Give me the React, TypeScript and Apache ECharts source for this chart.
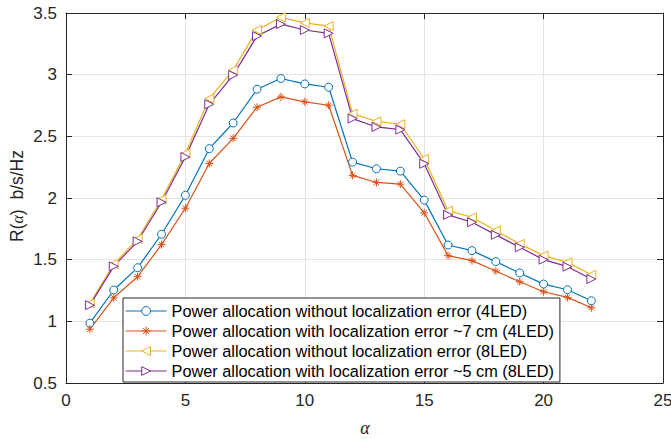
import React, { useEffect, useRef } from "react";
import * as echarts from "echarts";

const alpha = [1, 2, 3, 4, 5, 6, 7, 8, 9, 10, 11, 12, 13, 14, 15, 16, 17, 18, 19, 20, 21, 22];
const noErr4 = [0.985, 1.254, 1.435, 1.706, 2.022, 2.4, 2.608, 2.882, 2.969, 2.925, 2.898, 2.291, 2.237, 2.218, 1.983, 1.619, 1.573, 1.484, 1.392, 1.302, 1.256, 1.167];
const err4 = [0.936, 1.191, 1.362, 1.622, 1.917, 2.28, 2.484, 2.736, 2.82, 2.779, 2.752, 2.183, 2.126, 2.112, 1.88, 1.533, 1.492, 1.408, 1.321, 1.24, 1.194, 1.11];
const noErr8 = [1.145, 1.465, 1.668, 1.988, 2.36, 2.806, 3.037, 3.362, 3.465, 3.42, 3.394, 2.684, 2.622, 2.598, 2.318, 1.898, 1.844, 1.736, 1.628, 1.533, 1.478, 1.378];
const err8 = [1.131, 1.446, 1.649, 1.966, 2.332, 2.76, 2.996, 3.313, 3.41, 3.362, 3.335, 2.644, 2.576, 2.554, 2.278, 1.863, 1.803, 1.701, 1.6, 1.5, 1.443, 1.343];

const seriesNames = [
  "Power allocation without localization error (4LED)",
  "Power allocation with localization error ~7 cm (4LED)",
  "Power allocation without localization error (8LED)",
  "Power allocation with localization error ~5 cm (8LED)",
];
const colors = ["#0072BD", "#D95319", "#EDB120", "#7E2F8E"];
const xTicks = { min: 0, max: 25, interval: 5 };
const yTicks = { min: 0.5, max: 3.5, interval: 0.5 };

const FONT = "'Liberation Sans', Arial, Helvetica, sans-serif";
const AXIS_COLOR = "#262626";
const ASTERISK = "path://M5,0L5,10M0,5L10,5M1.6,1.6L8.4,8.4M1.6,8.4L8.4,1.6";

function pairs(ys: number[]) {
  return alpha.map((a, i) => [a, ys[i]]);
}

export default function App() {
  const ref = useRef<HTMLDivElement>(null);
  useEffect(() => {
    if (!ref.current) return;
    const chart = echarts.init(ref.current, undefined, { renderer: "svg" });
    const axisCommon = {
      axisLine: { show: true, onZero: false, lineStyle: { color: AXIS_COLOR, width: 1 } },
      axisTick: { show: true, inside: true, length: 6, lineStyle: { color: AXIS_COLOR, width: 1 } },
    };
    const dataSets = [noErr4, err4, noErr8, err8];
    const symbols = ["circle", ASTERISK, "triangle", "triangle"];
    const sizes = [8, 8, 9, 9];
    const rotates = [0, 0, 90, -90];
    chart.setOption({
      animation: false,
      grid: { left: 66, right: 8, top: 13, bottom: 56, containLabel: false, outerBoundsMode: "none" },
      xAxis: [
        {
          type: "value",
          position: "bottom",
          ...xTicks,
          ...axisCommon,
          axisLabel: { color: AXIS_COLOR, fontSize: 17, fontFamily: FONT, margin: 9 },
          splitLine: { show: true, lineStyle: { color: "#e3e3e3", width: 1 } },
        },
        {
          type: "value",
          position: "top",
          ...xTicks,
          ...axisCommon,
          axisLabel: { show: false },
          splitLine: { show: false },
        },
      ],
      yAxis: [
        {
          type: "value",
          position: "left",
          ...yTicks,
          ...axisCommon,
          axisLabel: { color: AXIS_COLOR, fontSize: 17, fontFamily: FONT, margin: 9 },
          splitLine: { show: true, lineStyle: { color: "#e3e3e3", width: 1 } },
        },
        {
          type: "value",
          position: "right",
          ...yTicks,
          ...axisCommon,
          axisLabel: { show: false },
          splitLine: { show: false },
        },
      ],
      legend: {
        orient: "vertical",
        left: 123,
        top: 298,
        padding: [4, 6, 2, 2],
        itemGap: 2,
        itemWidth: 41,
        itemHeight: 11,
        itemStyle: { borderWidth: 1 },
        lineStyle: { width: 1.2 },
        backgroundColor: "#fff",
        borderColor: AXIS_COLOR,
        borderWidth: 1,
        borderRadius: 0,
        textStyle: { fontSize: 16.3, fontFamily: FONT, color: "#000", lineHeight: 18 },
        data: seriesNames,
      },
      graphic: [
        {
          type: "text",
          x: 17,
          y: 196,
          rotation: Math.PI / 2,
          style: {
            text: "R({a|α})  b/s/Hz",
            fill: AXIS_COLOR,
            font: `17.5px ${FONT}`,
            align: "center",
            verticalAlign: "middle",
            rich: {
              a: { fontFamily: "'Liberation Serif', 'DejaVu Serif', serif", fontStyle: "italic", fontSize: 16, fill: AXIS_COLOR },
            },
          },
        },
        {
          type: "text",
          x: 365,
          y: 428,
          style: {
            text: "α",
            fill: AXIS_COLOR,
            font: "italic 18px 'Liberation Serif', 'DejaVu Serif', serif",
            align: "center",
            verticalAlign: "middle",
          },
        },
      ],
      series: dataSets.map((d, i) => ({
        name: seriesNames[i],
        type: "line",
        data: pairs(d),
        xAxisIndex: 0,
        yAxisIndex: 0,
        symbol: symbols[i],
        symbolSize: sizes[i],
        symbolRotate: rotates[i],
        showAllSymbol: true,
        lineStyle: { color: colors[i], width: 1.2 },
        itemStyle: { color: i === 1 ? colors[i] : "#fff", borderColor: colors[i], borderWidth: 1 },
        emphasis: { disabled: true },
        silent: true,
      })),
    });
    return () => chart.dispose();
  }, []);
  return (
    <div
      ref={ref}
      style={{ position: "absolute", left: 0, top: 0, width: 671, height: 439, background: "#fff" }}
    />
  );
}
